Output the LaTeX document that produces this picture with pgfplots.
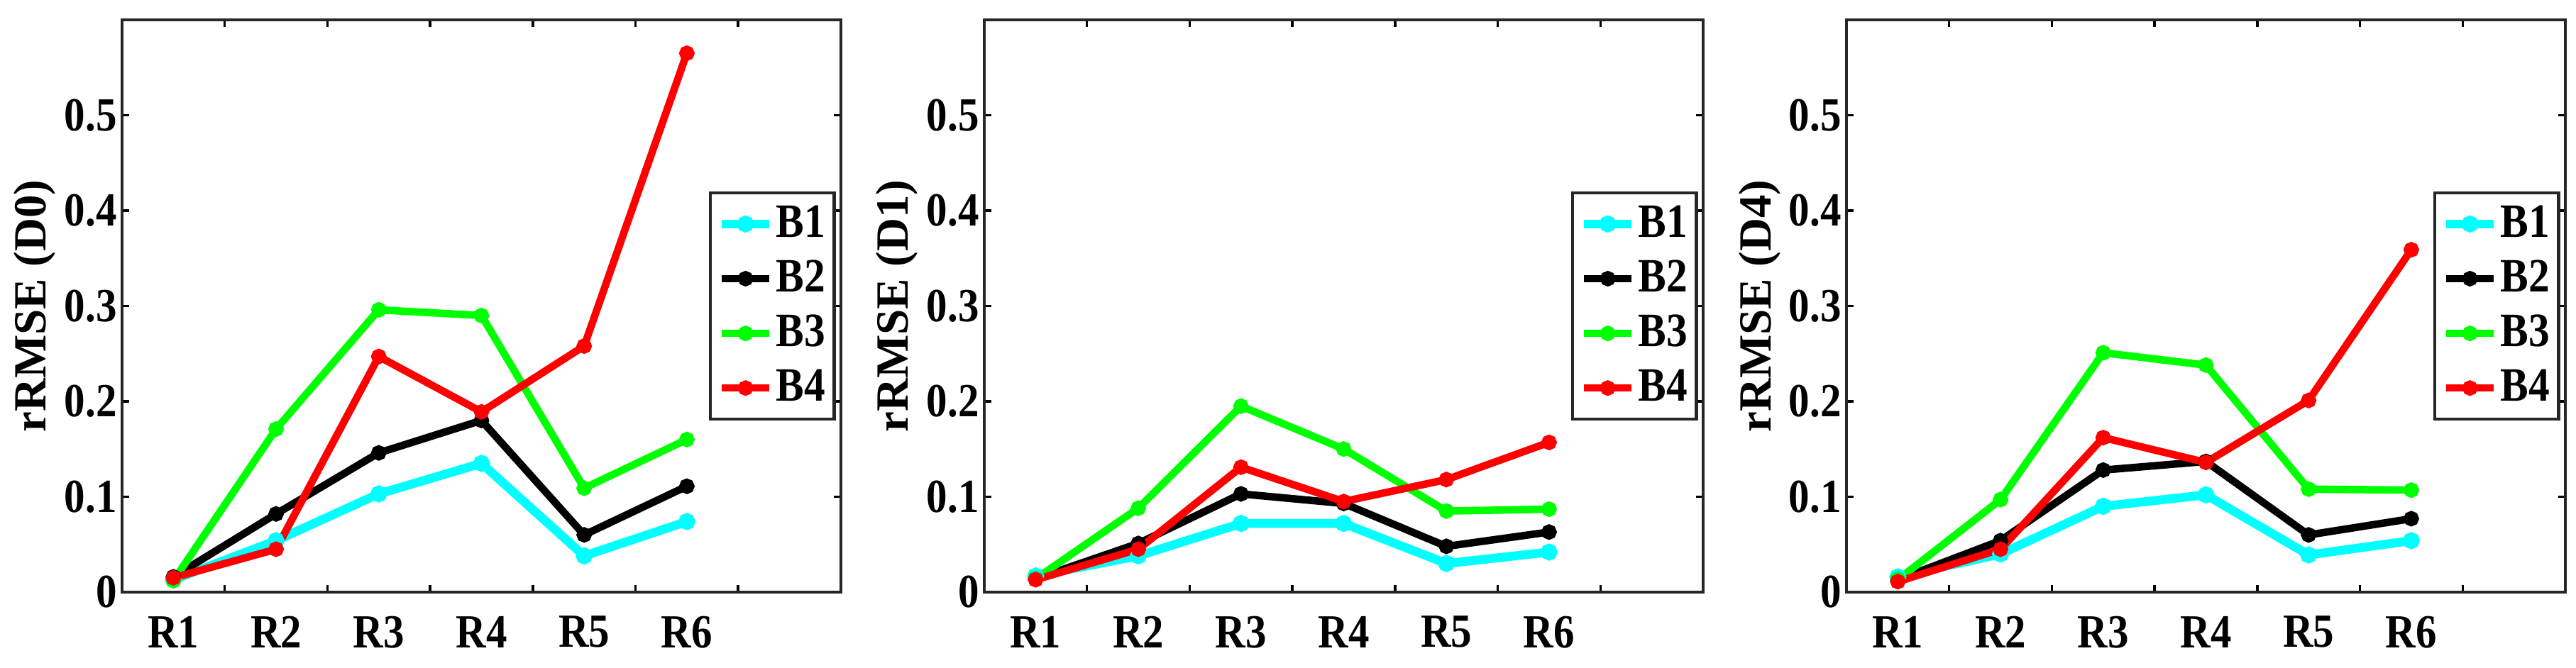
\documentclass[border=0pt]{standalone}
\usepackage{fontspec}
\setmainfont{Liberation Serif}
\newfontfamily\cond{Liberation Serif}[FakeStretch=0.88]
\usepackage{pgfplots}
\pgfplotsset{compat=1.18}

\definecolor{mcyan}{RGB}{0,255,255}
\definecolor{mgreen}{RGB}{0,255,0}
\definecolor{mred}{RGB}{255,0,0}

\pgfplotsset{
  rpanel/.style={
    width=202.6pt, height=161.4pt, scale only axis,
    xmin=0, xmax=7, ymin=0, ymax=0.6,
    xtick={1,...,6}, xticklabels={},
    extra x ticks={0.5,1.5,2.5,3.5,4.5,5.5},
    extra x tick labels={R1,R2,R3,R4,R5,R6},
    extra x tick style={major tick length=0pt,
      xticklabel style={anchor=north, inner sep=0pt, yshift=-6.6pt}},
    ytick={0,0.1,0.2,0.3,0.4,0.5},
    yticklabel style={inner xsep=1.3pt, /pgf/number format/fixed, /pgf/number format/precision=1},
    /pgf/number format/assume math mode=true,
    tick label style={font=\fontsize{13.4}{15}\cond\bfseries},
    ylabel style={font=\fontsize{13}{15}\selectfont\bfseries,
      at={(axis description cs:-0.091,0.5)}, anchor=south, inner sep=0pt},
    tick align=inside, major tick length=2pt,
    xtick pos=both, ytick pos=both,
    axis line style={line width=0.9pt, black!85},
    every tick/.style={black, line width=0.7pt},
    legend style={at={(1,0.5)}, anchor=east, xshift=-1.4pt,
      draw=black!85, line width=0.9pt,
      font=\fontsize{13.5}{15}\cond\bfseries, row sep=3.8pt,
      inner xsep=2pt, inner ysep=3pt, nodes={inner sep=0.6pt}},
    legend cell align=left,
    legend image code/.code={
      \draw[mark repeat=2,mark phase=2,#1] plot coordinates {(0pt,0pt)(6.7pt,0pt)(13.4pt,0pt)};},
  },
  every axis plot/.append style={line width=2.1pt, mark=*, mark size=1.1pt},
}

\begin{document}
\begin{tikzpicture}

% panel D0
\begin{axis}[rpanel, at={(0pt,0pt)}, ylabel={rRMSE (D0)}]
\addplot[mcyan, line width=2.5pt] coordinates {(0.5,0.013)(1.5,0.054)(2.5,0.103)(3.5,0.135)(4.5,0.038)(5.5,0.074)};
\addplot[black] coordinates {(0.5,0.016)(1.5,0.082)(2.5,0.146)(3.5,0.180)(4.5,0.060)(5.5,0.111)};
\addplot[mgreen] coordinates {(0.5,0.012)(1.5,0.171)(2.5,0.296)(3.5,0.290)(4.5,0.109)(5.5,0.160)};
\addplot[mred] coordinates {(0.5,0.015)(1.5,0.045)(2.5,0.247)(3.5,0.189)(4.5,0.258)(5.5,0.565)};
\legend{B1,B2,B3,B4}
\end{axis}

% panel D1
\begin{axis}[rpanel, at={(243pt,0pt)}, ylabel={rRMSE (D1)}]
\addplot[mcyan, line width=2.5pt] coordinates {(0.5,0.017)(1.5,0.038)(2.5,0.072)(3.5,0.072)(4.5,0.030)(5.5,0.042)};
\addplot[black] coordinates {(0.5,0.014)(1.5,0.051)(2.5,0.103)(3.5,0.093)(4.5,0.048)(5.5,0.063)};
\addplot[mgreen] coordinates {(0.5,0.014)(1.5,0.088)(2.5,0.195)(3.5,0.150)(4.5,0.085)(5.5,0.087)};
\addplot[mred] coordinates {(0.5,0.013)(1.5,0.045)(2.5,0.131)(3.5,0.095)(4.5,0.118)(5.5,0.157)};
\legend{B1,B2,B3,B4}
\end{axis}

% panel D4
\begin{axis}[rpanel, at={(486pt,0pt)}, ylabel={rRMSE (D4)}]
\addplot[mcyan, line width=2.5pt] coordinates {(0.5,0.016)(1.5,0.040)(2.5,0.090)(3.5,0.102)(4.5,0.039)(5.5,0.054)};
\addplot[black] coordinates {(0.5,0.013)(1.5,0.054)(2.5,0.128)(3.5,0.137)(4.5,0.060)(5.5,0.077)};
\addplot[mgreen] coordinates {(0.5,0.013)(1.5,0.097)(2.5,0.251)(3.5,0.238)(4.5,0.108)(5.5,0.107)};
\addplot[mred] coordinates {(0.5,0.011)(1.5,0.045)(2.5,0.162)(3.5,0.136)(4.5,0.201)(5.5,0.359)};
\legend{B1,B2,B3,B4}
\end{axis}

\pgfresetboundingbox
\useasboundingbox (-34.4pt,-21.2pt) rectangle (691.6pt,167pt);
\end{tikzpicture}
\end{document}
